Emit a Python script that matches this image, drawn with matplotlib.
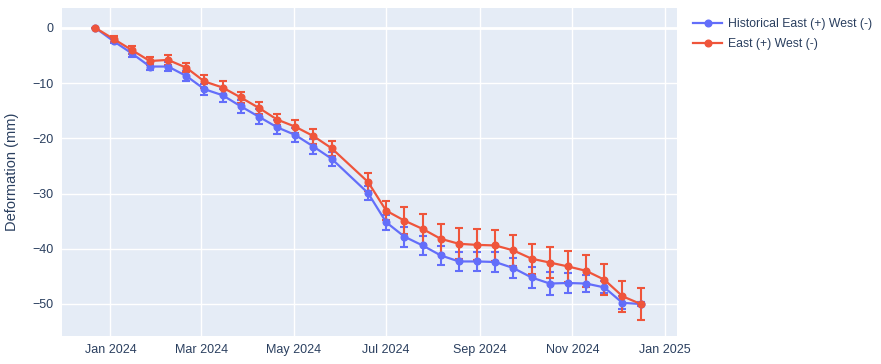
import matplotlib.pyplot as plt
import matplotlib.dates as mdates
from matplotlib.lines import Line2D
import pandas as pd

# acquisition dates (12-day cadence, one gap in June)
dates = pd.to_datetime([
    "2023-12-22", "2024-01-03", "2024-01-15", "2024-01-27", "2024-02-08",
    "2024-02-20", "2024-03-03", "2024-03-15", "2024-03-27", "2024-04-08",
    "2024-04-20", "2024-05-02", "2024-05-14", "2024-05-26", "2024-06-19",
    "2024-07-01", "2024-07-13", "2024-07-25", "2024-08-06", "2024-08-18",
    "2024-08-30", "2024-09-11", "2024-09-23", "2024-10-05", "2024-10-17",
    "2024-10-29", "2024-11-10", "2024-11-22", "2024-12-04", "2024-12-16",
])

hist_vals = [0, -2.4, -4.6, -7.0, -7.0, -8.7, -11.1, -12.2, -14.2, -16.1,
             -18.0, -19.4, -21.5, -23.7, -29.9, -35.2, -37.8, -39.4, -41.2, -42.3,
             -42.3, -42.4, -43.5, -45.2, -46.3, -46.2, -46.3, -47.0, -49.8, -50.0]
hist_err = [0, 0.35, 0.6, 0.7, 0.75, 0.95, 1.0, 1.15, 1.2, 1.35,
            1.3, 1.35, 1.3, 1.3, 1.2, 1.35, 1.8, 1.8, 1.7, 1.75,
            1.8, 1.75, 1.8, 1.85, 2.1, 1.85, 1.6, 1.1, 1.2, 0.3]

ew_vals = [0, -2.0, -4.0, -6.0, -5.8, -7.2, -9.7, -10.8, -12.6, -14.5,
           -16.6, -17.9, -19.6, -21.8, -27.9, -33.1, -34.9, -36.4, -38.2, -39.1,
           -39.3, -39.4, -40.3, -41.8, -42.5, -43.2, -44.0, -45.6, -48.6, -50.0]
ew_err = [0, 0.5, 0.7, 0.7, 0.85, 0.75, 1.1, 1.1, 1.0, 1.05,
          1.05, 1.2, 1.35, 1.35, 1.6, 1.7, 2.4, 2.7, 2.7, 2.8,
          2.8, 2.8, 2.75, 2.7, 2.8, 2.8, 2.9, 2.8, 2.8, 2.85]

labels = ["Historical East (+) West (-)", "East (+) West (-)"]
colors = ["#636EFA", "#EF553B"]

plt.rcParams['font.family'] = ['Liberation Sans', 'DejaVu Sans']
text_color = "#2a3f5f"

fig = plt.figure(figsize=(8.81, 3.64), dpi=100)
ax = fig.add_axes([62 / 881, 28 / 364, 615 / 881, 328 / 364])
ax.set_facecolor("#E5ECF6")

handles = []
for vals, err, lab, col in [(hist_vals, hist_err, labels[0], colors[0]),
                            (ew_vals, ew_err, labels[1], colors[1])]:
    ax.errorbar(dates, vals, yerr=err, color=col, lw=1.6, marker='o', ms=4.8,
                ecolor=col, elinewidth=1.5, capsize=3, capthick=1.5, zorder=3)
    handles.append(Line2D([], [], color=col, lw=1.6, marker='o', ms=4.8, label=lab))

ax.set_xlim(pd.Timestamp("2023-11-30"), pd.Timestamp("2025-01-09"))
ax.set_ylim(-55.8, 3.6)
ax.set_yticks([0, -10, -20, -30, -40, -50])
ax.xaxis.set_major_locator(mdates.MonthLocator(bymonth=[1, 3, 5, 7, 9, 11]))
ax.xaxis.set_major_formatter(mdates.DateFormatter("%b %Y"))

ax.grid(True, color="white", lw=1)
ax.axhline(0, color="white", lw=2, zorder=1)
ax.set_axisbelow(True)
for s in ax.spines.values():
    s.set_visible(False)
ax.tick_params(length=0, labelsize=9, colors=text_color, pad=6)
ax.set_ylabel("Deformation (mm)", fontsize=10.5, color=text_color, labelpad=10)

leg = ax.legend(handles=handles, loc="upper left",
                bbox_to_anchor=(688 / 881, 1 - 13 / 364),
                bbox_transform=fig.transFigure, frameon=False, fontsize=8.8,
                handlelength=2.4, handletextpad=0.5, labelspacing=0.65,
                borderaxespad=0)
for t in leg.get_texts():
    t.set_color(text_color)

fig.savefig("out.png", dpi=100)
